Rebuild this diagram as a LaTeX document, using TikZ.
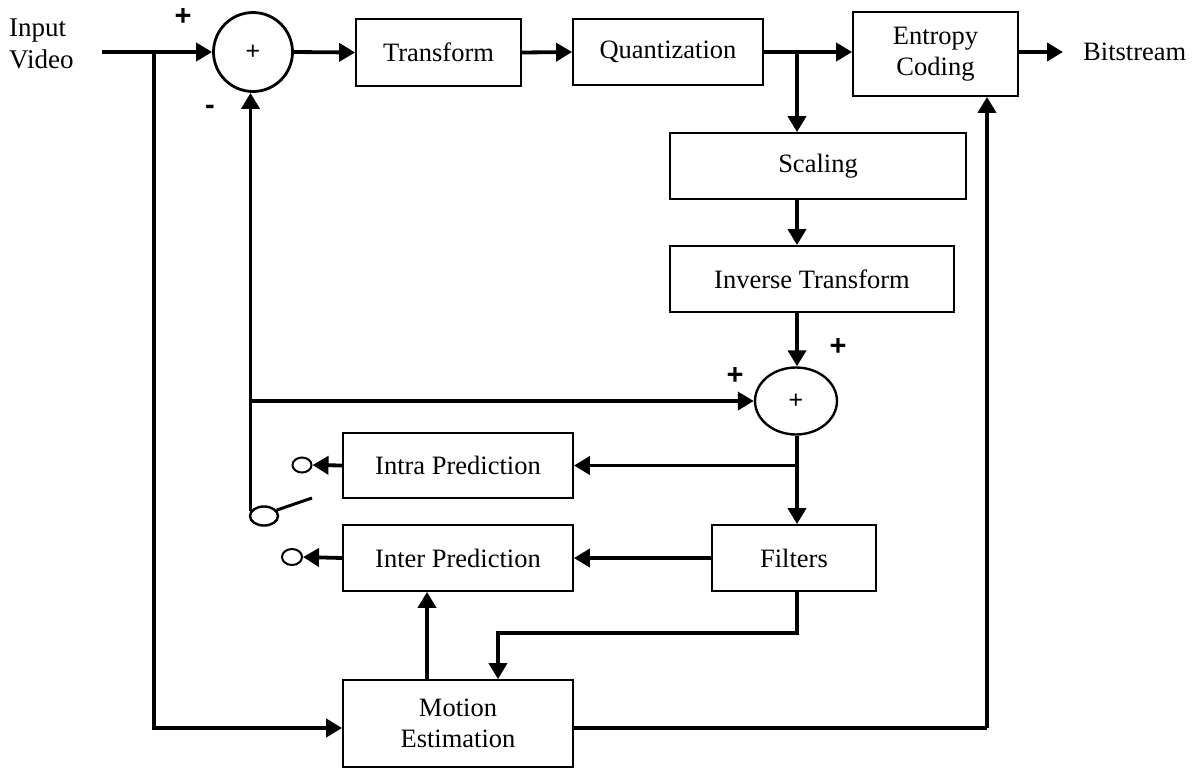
\documentclass[tikz,border=0pt]{standalone}
\usepackage{fontspec}
\setmainfont{Liberation Serif}
\newfontfamily\signfont{Liberation Sans}
\usetikzlibrary{arrows.meta,shapes.geometric}
\begin{document}
\begin{tikzpicture}[x=1pt,y=-1pt,
  blk/.style={draw, line width=1.8pt, inner sep=0pt, align=center,
    font=\fontsize{26.5}{31}\selectfont},
  flow/.style={line width=3.8pt, -{Triangle[length=16pt,width=18pt]}},
  wire/.style={line width=3.8pt},
  sign/.style={inner sep=0pt, font=\signfont\bfseries\fontsize{29}{29}\selectfont},
  summer/.style={draw, inner sep=0pt, font=\signfont\fontsize{25}{25}\selectfont},
  contact/.style={draw, ellipse, inner sep=0pt, line width=2pt}]
\useasboundingbox (0,0) rectangle (1195,769);

% processing blocks
\node[blk, minimum width=165pt, minimum height=67pt] (tr)    at (438.5,52.5) {Transform};
\node[blk, minimum width=190pt, minimum height=66pt] (qu)    at (668,52)     {Quantization};
\node[blk, minimum width=165pt, minimum height=84pt] (ent)   at (935.5,54)   {Entropy\\Coding};
\node[blk, minimum width=296pt, minimum height=66pt] (sc)    at (818,166)    {Scaling};
\node[blk, minimum width=284pt, minimum height=66pt] (inv)   at (812,279)    {Inverse Transform};
\node[blk, minimum width=230pt, minimum height=65pt] (intra) at (458,465.5)  {Intra Prediction};
\node[blk, minimum width=230pt, minimum height=66pt] (inter) at (458,558)    {Inter Prediction};
\node[blk, minimum width=164pt, minimum height=66pt] (filt)  at (794,558)    {Filters};
\node[blk, minimum width=230pt, minimum height=87pt] (me)    at (458,723.5)  {Motion\\Estimation};

% summing junctions
\node[summer, circle, line width=2.8pt, minimum size=79pt] (sum1) at (253,52) {+};
\node[summer, ellipse, line width=2.4pt, minimum width=82pt, minimum height=67pt] (sum2) at (796,401) {+};

% switch contacts
\node[contact, minimum width=19pt, minimum height=15pt] (o1) at (302,465) {};
\node[contact, minimum width=20pt, minimum height=16pt] (o2) at (292,557) {};
\node[contact, line width=2.4pt, minimum width=28pt, minimum height=19pt] (pivot) at (264,516) {};
\coordinate (lever) at (312,498);
\draw[line width=3pt] (pivot.25) -- (lever);

% text labels
\node[anchor=west, align=left, inner sep=0pt, font=\fontsize{27}{32}\selectfont] (in) at (9,44) {Input\\Video};
\node[anchor=west, inner xsep=20pt, inner ysep=0pt, font=\fontsize{26.5}{31}\selectfont] (bits) at (1063,52) {Bitstream};
\node[sign] (p1) at (183,17) {+};
\node[sign] (m1) at (210,110) {-};
\node[sign] (p2) at (838,347) {+};
\node[sign] (p3) at (735,376) {+};

% forward path
\coordinate (src) at (102,52);
\coordinate (tap) at (154,52);
\draw[flow] (src) -- (sum1.west);
\draw[flow] (sum1.east) -- (tr.west);
\draw[flow] (tr.east) -- (qu.west);
\draw[flow] (qu.east) -- (qu.east -| ent.west);
\draw[flow] (qu.east -| ent.east) -- (bits.west);

% reconstruction path
\coordinate (br) at (797,52);
\draw[flow] (br) -- (br |- sc.north);
\draw[flow] (br |- sc.south) -- (br |- inv.north);
\draw[flow] (br |- inv.south) -- (br |- sum2.north);
\draw[flow] (br |- sum2.south) -- (br |- filt.north);
\draw[flow] (br |- intra.east) -- (intra.east);
\draw[flow] (filt.west) -- (filt.west -| inter.east);
\draw[flow] (intra.west) -- (o1.east);
\draw[flow] (inter.west) -- (o2.east);

% prediction feedback
\draw[flow] (pivot.160) -- (pivot.160 |- sum1.south);
\draw[flow] (pivot.160 |- sum2.west) -- (sum2.west);

% motion estimation
\draw[flow] (br |- filt.south) -- ++(0,41) -| ([xshift=40pt]me.north);
\draw[flow] ([xshift=-31pt]me.north) -- ([xshift=-31pt]inter.south);
\draw[flow] (tap) |- ([yshift=-4.5pt]me.west);
\coordinate (up) at (987,728);
\draw[wire] ([yshift=-4.5pt]me.east) -- (up);
\draw[flow] (up) -- (up |- ent.south);
\end{tikzpicture}
\end{document}
